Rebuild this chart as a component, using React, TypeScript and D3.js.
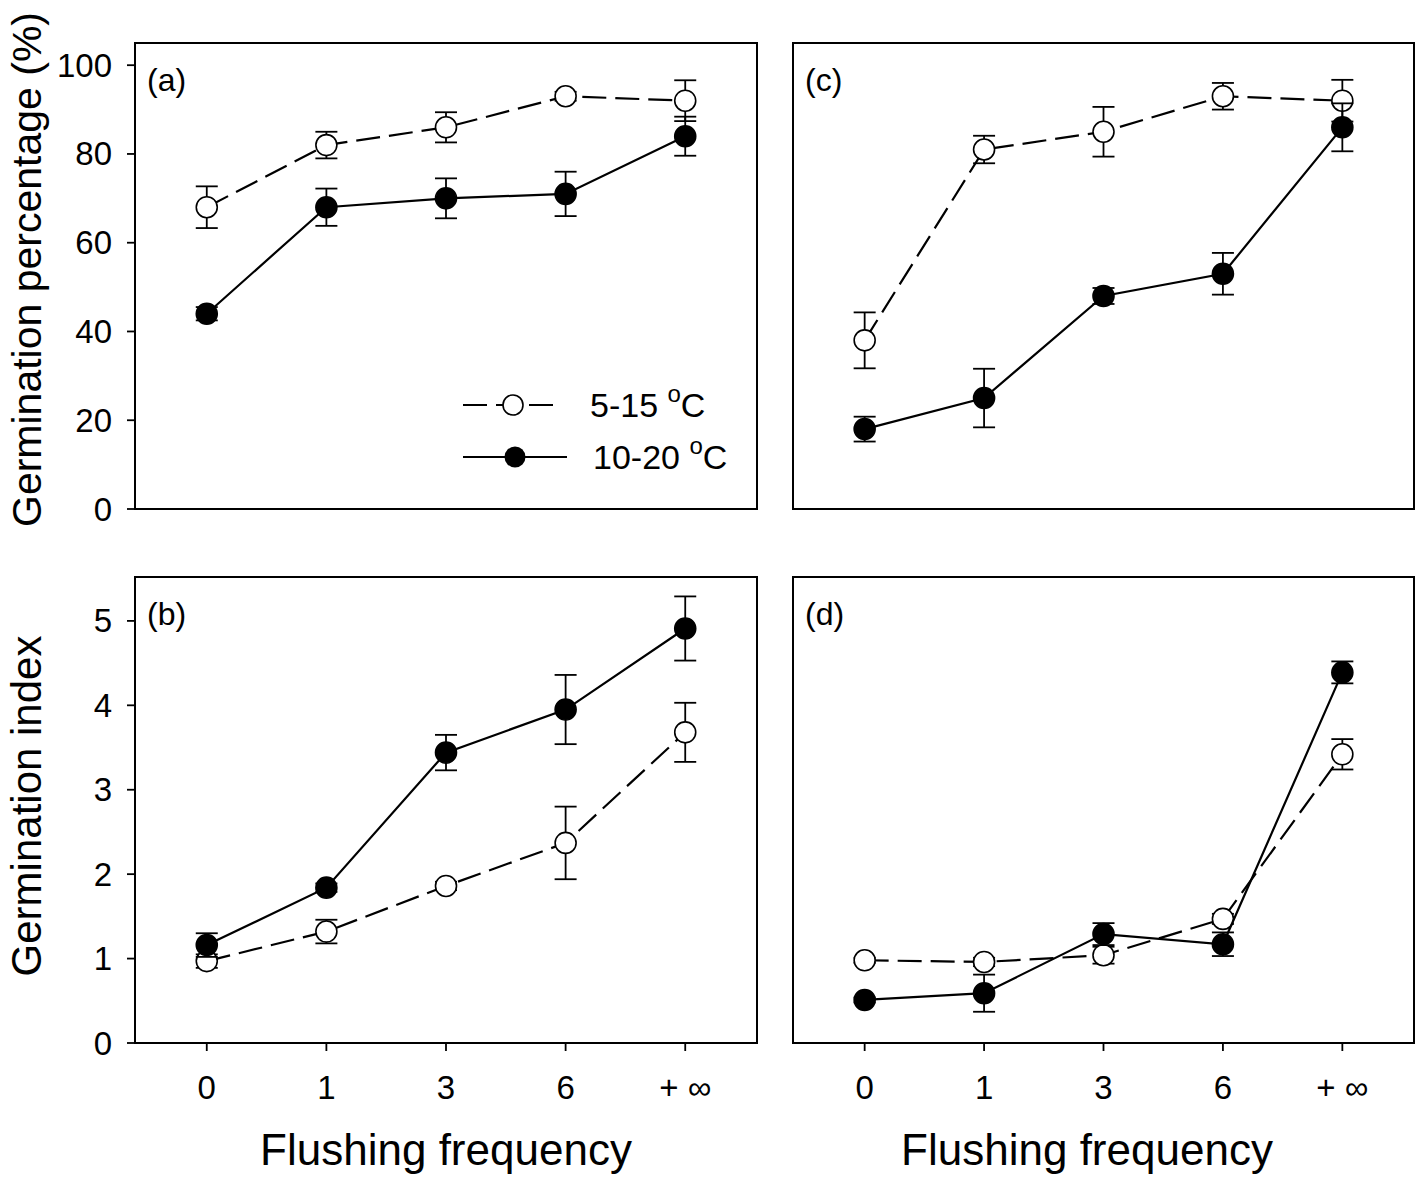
import * as d3 from 'd3';

// categories on the x axis
const categories = ['0', '1', '3', '6', '+ ∞'];

// (a) germination percentage
const aLowMean = [68, 82, 86, 93, 92];
const aLowErr = [4.7, 3, 3.4, 1, 4.6];
const aHighMean = [44, 68, 70, 71, 84];
const aHighErr = [1.5, 4.2, 4.5, 5, 4.4];

// (c) germination percentage
const cLowMean = [38, 81, 85, 93, 92];
const cLowErr = [6.3, 3.1, 5.6, 3, 4.7];
const cHighMean = [18, 25, 48, 53, 86];
const cHighErr = [2.8, 6.6, 1.8, 4.7, 5.4];

// (b) germination index
const bLowMean = [0.97, 1.32, 1.86, 2.37, 3.68];
const bLowErr = [0.08, 0.14, 0.05, 0.43, 0.35];
const bHighMean = [1.16, 1.84, 3.44, 3.95, 4.91];
const bHighErr = [0.14, 0.05, 0.21, 0.41, 0.38];

// (d) germination index
const dLowMean = [0.98, 0.96, 1.04, 1.47, 3.42];
const dLowErr = [0.03, 0.05, 0.1, 0.06, 0.18];
const dHighMean = [0.51, 0.59, 1.29, 1.17, 4.39];
const dHighErr = [0.03, 0.22, 0.13, 0.14, 0.13];

const pctTicks = [0, 20, 40, 60, 80, 100];
const indexTicks = [0, 1, 2, 3, 4, 5];

const FONT = 'Arial, "Liberation Sans", sans-serif';
const W = 1418;
const H = 1177;

const colLeft = [135, 757];
const colRight = [793, 1414];
const rowTop = [43, 509];
const rowBottom = [577, 1043];

interface PanelProps {
  xr: number[];
  yr: number[];
  domain: number[];
  label: string;
  low: number[];
  lowErr: number[];
  high: number[];
  highErr: number[];
  yTicks?: number[];
  xTicks?: boolean;
  legend?: boolean;
}

function Series({ x, y, mean, err, filled }: {
  x: d3.ScaleLinear<number, number>;
  y: d3.ScaleLinear<number, number>;
  mean: number[];
  err: number[];
  filled: boolean;
}) {
  const line = d3.line<number>()
    .x((_, i) => x(i))
    .y(d => y(d));
  return (
    <g>
      <path
        d={line(mean) || ''}
        fill="none"
        stroke="#000"
        strokeWidth={2.2}
        strokeDasharray={filled ? undefined : '24,9'}
      />
      {mean.map((m, i) => (
        <g key={i}>
          <line x1={x(i)} x2={x(i)} y1={y(m - err[i])} y2={y(m + err[i])} stroke="#000" strokeWidth={1.8} />
          <line x1={x(i) - 11} x2={x(i) + 11} y1={y(m + err[i])} y2={y(m + err[i])} stroke="#000" strokeWidth={1.8} />
          <line x1={x(i) - 11} x2={x(i) + 11} y1={y(m - err[i])} y2={y(m - err[i])} stroke="#000" strokeWidth={1.8} />
        </g>
      ))}
      {mean.map((m, i) => (
        <circle
          key={'c' + i}
          cx={x(i)}
          cy={y(m)}
          r={10.5}
          fill={filled ? '#000' : '#fff'}
          stroke="#000"
          strokeWidth={1.6}
        />
      ))}
    </g>
  );
}

function Panel(p: PanelProps) {
  const x = d3.scaleLinear().domain([-0.6, 4.6]).range(p.xr);
  const y = d3.scaleLinear().domain(p.domain).range([p.yr[1], p.yr[0]]);
  return (
    <g>
      <rect
        x={p.xr[0]}
        y={p.yr[0]}
        width={p.xr[1] - p.xr[0]}
        height={p.yr[1] - p.yr[0]}
        fill="none"
        stroke="#000"
        strokeWidth={2}
      />
      <text x={p.xr[0] + 12} y={p.yr[0] + 48} fontSize={32} fontFamily={FONT}>{p.label}</text>
      {p.yTicks && p.yTicks.map(t => (
        <g key={t}>
          <line x1={p.xr[0] - 8} x2={p.xr[0]} y1={y(t)} y2={y(t)} stroke="#000" strokeWidth={1.8} />
          <text x={p.xr[0] - 23} y={y(t) + 11.5} fontSize={33} fontFamily={FONT} textAnchor="end">{t}</text>
        </g>
      ))}
      {p.xTicks && categories.map((c, i) => (
        <g key={c}>
          <line x1={x(i)} x2={x(i)} y1={p.yr[1]} y2={p.yr[1] + 8} stroke="#000" strokeWidth={1.8} />
          <text x={x(i)} y={p.yr[1] + 56} fontSize={33} fontFamily={FONT} textAnchor="middle">{c}</text>
        </g>
      ))}
      <Series x={x} y={y} mean={p.low} err={p.lowErr} filled={false} />
      <Series x={x} y={y} mean={p.high} err={p.highErr} filled={true} />
      {p.legend && (
        <g fontFamily={FONT} fontSize={34}>
          <line x1={463} x2={557} y1={405} y2={405} stroke="#000" strokeWidth={2} strokeDasharray="24,9" />
          <circle cx={513} cy={405} r={10} fill="#fff" stroke="#000" strokeWidth={1.6} />
          <text x={590} y={417}>5-15 <tspan fontSize={24} dy={-15}>o</tspan><tspan dy={15}>C</tspan></text>
          <line x1={463} x2={567} y1={457} y2={457} stroke="#000" strokeWidth={2} />
          <circle cx={515} cy={457} r={10.5} fill="#000" />
          <text x={593} y={469}>10-20 <tspan fontSize={24} dy={-15}>o</tspan><tspan dy={15}>C</tspan></text>
        </g>
      )}
    </g>
  );
}

export default function App() {
  return (
    <svg width={W} height={H} style={{ position: 'absolute', left: 0, top: 0, background: '#fff' }}>
      <Panel xr={colLeft} yr={rowTop} domain={[0, 105]} label="(a)"
        low={aLowMean} lowErr={aLowErr} high={aHighMean} highErr={aHighErr}
        yTicks={pctTicks} legend />
      <Panel xr={colRight} yr={rowTop} domain={[0, 105]} label="(c)"
        low={cLowMean} lowErr={cLowErr} high={cHighMean} highErr={cHighErr} />
      <Panel xr={colLeft} yr={rowBottom} domain={[0, 5.52]} label="(b)"
        low={bLowMean} lowErr={bLowErr} high={bHighMean} highErr={bHighErr}
        yTicks={indexTicks} xTicks />
      <Panel xr={colRight} yr={rowBottom} domain={[0, 5.52]} label="(d)"
        low={dLowMean} lowErr={dLowErr} high={dHighMean} highErr={dHighErr}
        xTicks />
      <text transform="translate(41,527) rotate(-90)" textAnchor="start" fontSize={41} fontFamily={FONT}>
        Germination percentage (%)
      </text>
      <text transform="translate(41,806) rotate(-90)" textAnchor="middle" fontSize={42} fontFamily={FONT}>
        Germination index
      </text>
      <text x={446} y={1165} textAnchor="middle" fontSize={44} fontFamily={FONT}>Flushing frequency</text>
      <text x={1087} y={1165} textAnchor="middle" fontSize={44} fontFamily={FONT}>Flushing frequency</text>
    </svg>
  );
}
